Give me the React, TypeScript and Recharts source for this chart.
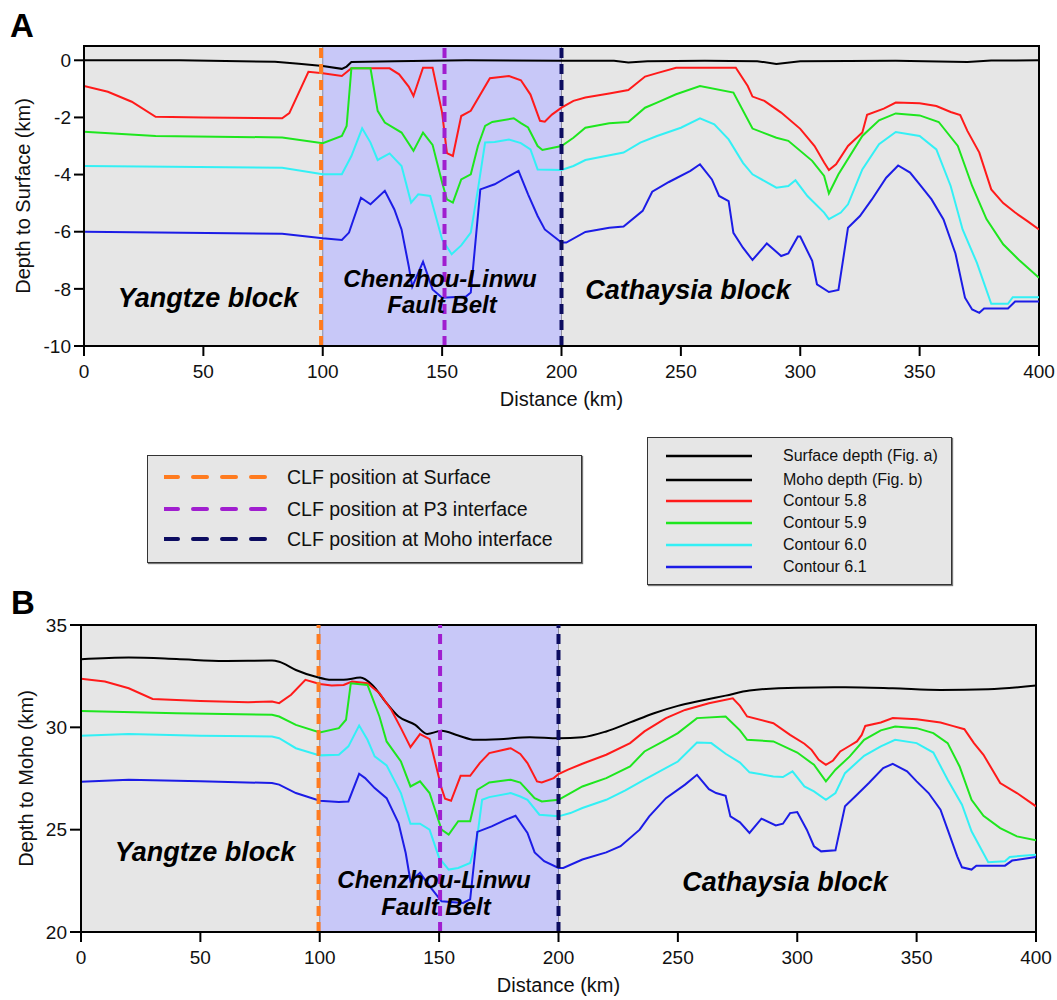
import React from 'react';
import { LineChart, Line, XAxis, YAxis, ReferenceArea, ReferenceLine } from 'recharts';

type Pt = [number, number];

const FONT = '"Liberation Sans", Arial, Helvetica, sans-serif';

const distanceTicks = [0, 50, 100, 150, 200, 250, 300, 350, 400];
const surfaceTicks = [0, -2, -4, -6, -8, -10];
const mohoTicks = [20, 25, 30, 35];

// CLF positions (km along profile)
const clfSurfaceA = 99.3;
const clfP3A = 151;
const clfMohoA = 200;
const clfSurfaceB = 99.5;
const clfP3B = 150.4;
const clfMohoB = 200;

// ---- Panel A: depth below surface (km) ----
const surfaceA: Pt[] = [
  [0, 0], [40, 0], [80, -0.05], [90, -0.12], [100, -0.2], [108, -0.3], [110, -0.22], [112, -0.06],
  [130, -0.03], [160, 0], [200, -0.02], [222, -0.02], [228, -0.08], [236, -0.03], [260, -0.02],
  [282, -0.03], [290, -0.13], [300, -0.03], [340, -0.02], [370, -0.06], [380, -0.01], [400, 0],
];
const c58A: Pt[] = [
  [0, -0.9], [10, -1.1], [20, -1.45], [30, -1.98], [50, -2.0], [83, -2.03], [86, -1.85], [94, -0.4],
  [100, -0.45], [108, -0.55], [112, -0.28], [128, -0.28], [132, -0.49], [136, -0.92], [138, -1.25],
  [142, -0.26], [146, -0.26], [150, -1.83], [152, -3.25], [154.5, -3.35], [158, -1.95], [162, -1.77],
  [170, -0.63], [178, -0.55], [183, -0.7], [187, -1.2], [191, -2.12], [193, -2.15], [196, -1.9],
  [200, -1.66], [205, -1.42], [210, -1.3], [220, -1.16], [228, -1.04], [235, -0.57], [240, -0.45],
  [248, -0.26], [273, -0.26], [278, -0.9], [280, -1.27], [285, -1.42], [292, -1.83], [300, -2.4],
  [306, -3.0], [310, -3.58], [312, -3.84], [315, -3.64], [320, -3.0], [326, -2.53], [328, -1.91],
  [335, -1.69], [340, -1.48], [350, -1.5], [357, -1.6], [363, -1.81], [367, -1.92], [370, -2.47],
  [375, -3.23], [380, -4.52], [385, -5.0], [390, -5.33], [395, -5.62], [400, -5.92],
];
const c59A: Pt[] = [
  [0, -2.5], [30, -2.65], [83, -2.7], [100, -2.9], [108, -2.65], [110, -2.3], [112, -0.28], [120, -0.28],
  [123, -1.77], [126, -2.18], [133, -2.53], [138, -3.17], [142, -2.53], [146, -2.96], [150, -4.28],
  [152, -4.87], [154.5, -4.98], [158, -4.17], [162, -3.99], [165, -3.0], [168, -2.3], [171, -2.16],
  [180, -2.03], [183, -2.2], [186, -2.35], [190, -3.0], [192, -3.14], [200, -3.0], [205, -2.71],
  [210, -2.36], [220, -2.2], [228, -2.16], [235, -1.66], [240, -1.48], [248, -1.19], [258, -0.9],
  [272, -1.13], [280, -2.39], [290, -2.71], [295, -2.82], [305, -3.52], [310, -4.05], [312, -4.66],
  [316, -3.99], [326, -2.65], [333, -2.1], [340, -1.86], [350, -1.93], [358, -2.16], [366, -3.0],
  [372, -4.4], [378, -5.56], [385, -6.44], [392, -7.02], [400, -7.61],
];
const c60A: Pt[] = [
  [0, -3.7], [83, -3.76], [100, -3.99], [108, -3.99], [112, -3.35], [116.5, -2.38], [120, -2.88],
  [123, -3.49], [128, -3.26], [133, -3.7], [137, -4.98], [140, -4.69], [145, -4.75], [150, -6.27],
  [154, -6.79], [158, -6.48], [162, -6.03], [165, -4.52], [168, -2.88], [172, -2.86], [178, -2.77],
  [183, -2.9], [187, -3.12], [190, -3.82], [200, -3.84], [205, -3.7], [210, -3.49], [226, -3.23],
  [233, -2.88], [240, -2.65], [250, -2.36], [258, -2.03], [264, -2.24], [270, -2.77], [276, -3.59],
  [280, -3.99], [290, -4.46], [295, -4.4], [298, -4.2], [303, -4.75], [310, -5.33], [312, -5.56],
  [317, -5.33], [320, -5.04], [326, -3.82], [333, -2.94], [340, -2.51], [350, -2.65], [357, -3.12],
  [363, -4.4], [368, -5.92], [374, -7.09], [380, -8.52], [387, -8.52], [389, -8.29], [400, -8.29],
];
const c61A: Pt[] = [
  [0, -6.0], [83, -6.07], [100, -6.23], [108, -6.29], [111, -6.03], [116, -4.81], [120, -5.04],
  [126, -4.57], [130, -5.22], [133, -5.92], [136, -7.2], [137.5, -7.92], [142, -7.05], [146, -8.02],
  [150, -8.31], [160, -8.27], [162, -8.13], [166, -4.52], [172, -4.34], [178, -4.05], [182, -3.87],
  [186, -4.69], [190, -5.45], [193, -5.92], [200, -6.38], [202, -6.38], [210, -6.01], [220, -5.86],
  [226, -5.82], [234, -5.27], [238, -4.6], [245, -4.26], [254, -3.87], [258, -3.64], [263, -4.17],
  [266, -4.75], [270, -4.93], [272, -6.04], [276, -6.56], [280, -6.99], [286, -6.41], [292, -6.85],
  [295, -6.76], [299, -6.17], [300, -6.17], [305, -7.02], [307, -7.84], [312, -8.11], [316, -8.04],
  [320, -5.86], [325, -5.45], [330, -4.87], [336, -4.11], [341, -3.68], [346, -3.93], [350, -4.34],
  [355, -4.87], [360, -5.57], [365, -6.76], [369, -8.31], [372, -8.72], [375, -8.84], [377, -8.69],
  [387, -8.69], [390, -8.44], [400, -8.44],
];

// ---- Panel B: depth to Moho (km) ----
const mohoB: Pt[] = [
  [0, 33.33], [20, 33.41], [40, 33.34], [60, 33.24], [80, 33.26], [83, 33.2], [90, 32.8], [98, 32.48],
  [105, 32.32], [110, 32.32], [117, 32.43], [122, 32.07], [128, 31.18], [133, 30.53], [140, 30.12],
  [145, 29.68], [151, 29.83], [158, 29.6], [165, 29.39], [175, 29.42], [188, 29.52], [200, 29.47],
  [210, 29.52], [220, 29.8], [230, 30.24], [240, 30.69], [250, 31.05], [260, 31.31], [270, 31.55],
  [280, 31.8], [300, 31.94], [320, 31.96], [340, 31.91], [360, 31.83], [380, 31.86], [400, 32.04],
];
const c58B: Pt[] = [
  [0, 32.37], [10, 32.24], [20, 31.91], [30, 31.39], [50, 31.29], [70, 31.23], [80, 31.26], [83, 31.18],
  [88, 31.59], [94, 32.32], [100, 32.12], [105, 32.04], [110, 32.07], [113.5, 32.24], [120, 32.15],
  [125, 31.67], [130, 30.85], [134, 29.96], [138, 29.03], [142, 29.67], [146, 29.42], [151, 27.03],
  [152.5, 26.51], [155, 26.41], [159, 27.63], [163, 27.63], [167, 28.25], [171, 28.74], [180, 28.98],
  [184, 28.7], [187, 28.25], [191, 27.36], [193, 27.31], [198, 27.52], [200, 27.72], [204, 27.93],
  [210, 28.22], [220, 28.66], [230, 29.23], [236, 29.8], [245, 30.45], [253, 30.85], [263, 31.18],
  [273, 31.42], [276, 31.05], [279, 30.53], [290, 30.2], [297, 29.63], [303, 29.2], [306, 28.9],
  [309, 28.41], [312, 28.17], [315, 28.38], [318, 28.82], [322, 29.1], [325, 29.31], [327, 29.63],
  [328.5, 30.07], [335, 30.24], [340, 30.45], [350, 30.4], [360, 30.24], [365, 30.07], [370, 29.91],
  [374, 29.23], [378, 28.66], [385, 27.28], [392, 26.79], [400, 26.14],
];
const c59B: Pt[] = [
  [0, 30.8], [40, 30.69], [80, 30.61], [83, 30.53], [90, 30.12], [100, 29.75], [108, 29.96], [111, 30.37],
  [113, 32.15], [120, 32.07], [125, 30.53], [128, 29.31], [134, 28.33], [138, 27.11], [142, 27.36],
  [146, 26.79], [150, 25.36], [151, 25.0], [154, 24.76], [158, 25.41], [163, 25.41], [166, 26.95],
  [171, 27.31], [180, 27.44], [184, 27.3], [190, 26.54], [193, 26.38], [200, 26.46], [205, 26.79],
  [210, 27.11], [220, 27.52], [230, 28.09], [236, 28.82], [245, 29.39], [250, 29.72], [258, 30.45],
  [270, 30.53], [276, 29.85], [279, 29.39], [290, 29.31], [300, 28.77], [307, 28.17], [312, 27.36],
  [316, 27.93], [322, 28.58], [328, 29.39], [335, 29.85], [341, 30.04], [350, 29.96], [357, 29.72],
  [363, 29.23], [368, 28.09], [373, 26.46], [378, 25.68], [385, 25.08], [392, 24.67], [400, 24.48],
];
const c60B: Pt[] = [
  [0, 29.59], [20, 29.68], [50, 29.59], [80, 29.55], [83, 29.47], [90, 28.98], [100, 28.63], [108, 28.66],
  [112, 29.07], [116.5, 30.09], [120, 29.39], [123, 28.58], [128, 28.14], [134, 26.79], [138, 25.29],
  [142, 25.29], [146, 25.0], [150, 23.62], [154, 23.05], [158, 23.13], [163, 23.37], [166, 24.67],
  [168, 26.46], [171, 26.59], [180, 26.79], [184, 26.62], [187, 26.46], [192, 25.73], [200, 25.65],
  [205, 25.81], [210, 26.06], [220, 26.46], [228, 26.92], [236, 27.44], [250, 28.33], [258, 29.26],
  [264, 29.23], [270, 28.71], [276, 28.28], [280, 27.8], [290, 27.6], [294, 27.57], [298, 27.85],
  [303, 27.11], [307, 26.87], [312, 26.46], [316, 26.79], [320, 27.76], [328, 28.61], [335, 29.07],
  [341, 29.39], [350, 29.23], [357, 28.77], [363, 27.44], [369, 26.22], [373, 24.92], [380, 23.41],
  [387, 23.46], [389, 23.67], [400, 23.78],
];
const c61B: Pt[] = [
  [0, 27.34], [20, 27.44], [50, 27.36], [80, 27.28], [83, 27.2], [90, 26.79], [100, 26.41], [108, 26.35],
  [112, 26.38], [116.5, 27.73], [119, 27.52], [123, 27.03], [128, 26.54], [133, 25.32], [136, 23.86],
  [138, 22.48], [142, 22.89], [146, 22.24], [151, 21.5], [160, 21.42], [163, 21.59], [166, 24.89],
  [172, 25.16], [178, 25.49], [182, 25.68], [187, 24.84], [190, 23.89], [194, 23.46], [200, 23.13],
  [202, 23.13], [210, 23.54], [220, 23.89], [226, 24.19], [234, 25.0], [238, 25.65], [245, 26.54],
  [253, 27.2], [258, 27.68], [263, 26.98], [266, 26.79], [270, 26.66], [272, 25.65], [276, 25.36],
  [280, 24.84], [285, 25.54], [291, 25.21], [294, 25.29], [297, 25.81], [300, 25.86], [304, 25.0],
  [307, 24.19], [310, 23.94], [316, 23.99], [320, 26.14], [325, 26.71], [330, 27.28], [336, 28.01],
  [340, 28.22], [346, 27.85], [350, 27.36], [355, 26.79], [360, 25.98], [363, 25.0], [367, 23.7],
  [369, 23.16], [373, 23.05], [375, 23.24], [387, 23.24], [390, 23.49], [400, 23.67],
];

const COLORS = {
  surface: '#000000',
  moho: '#000000',
  c58: '#ff1a1a',
  c59: '#1ee61e',
  c60: '#33f0f5',
  c61: '#1c1ce6',
  clfSurface: '#ff7b1f',
  clfP3: '#a01ecf',
  clfMoho: '#0c0c60',
};

const clfLegend = [
  { label: 'CLF position at Surface', color: COLORS.clfSurface },
  { label: 'CLF position at P3 interface', color: COLORS.clfP3 },
  { label: 'CLF position at Moho interface', color: COLORS.clfMoho },
];
const lineLegend = [
  { label: 'Surface depth (Fig. a)', color: COLORS.surface },
  { label: 'Moho depth (Fig. b)', color: COLORS.moho },
  { label: 'Contour 5.8', color: COLORS.c58 },
  { label: 'Contour 5.9', color: COLORS.c59 },
  { label: 'Contour 6.0', color: COLORS.c60 },
  { label: 'Contour 6.1', color: COLORS.c61 },
];

const toRows = (pts: Pt[]) => pts.map(([x, y]) => ({ x, y }));

interface Series {
  name: string;
  pts: Pt[];
  color: string;
  curve?: 'linear' | 'monotone';
}

interface PanelProps {
  series: Series[];
  yDomain: [number, number];
  yTicks: number[];
  yLabel: string;
  clf: [number, number, number];
  margin: { top: number; right: number; left: number; bottom: number };
  yAxisWidth: number;
  yTickSize: number;
  yLabelOffset: number;
}

const tickStyle = { fontSize: 19, fill: '#111', fontFamily: FONT };
const titleStyle = { fontSize: 20, fill: '#111', fontFamily: FONT, textAnchor: 'middle' as const };

function ProfilePanel({ series, yDomain, yTicks, yLabel, clf, margin, yAxisWidth, yTickSize, yLabelOffset }: PanelProps) {
  const [y0, y1] = yDomain;
  return (
    <LineChart width={1057} height={420} margin={margin}>
      <XAxis
        type="number"
        dataKey="x"
        domain={[0, 400]}
        ticks={distanceTicks}
        allowDataOverflow
        height={60}
        tickSize={10}
        tickMargin={9}
        tick={tickStyle}
        axisLine={{ stroke: '#000', strokeWidth: 2 }}
        tickLine={{ stroke: '#000', strokeWidth: 2 }}
        label={{ value: 'Distance (km)', position: 'insideBottom', offset: 0, style: titleStyle }}
      />
      <YAxis
        type="number"
        domain={yDomain}
        ticks={yTicks}
        allowDataOverflow
        width={yAxisWidth}
        tickSize={yTickSize}
        tickMargin={3}
        tick={tickStyle}
        axisLine={{ stroke: '#000', strokeWidth: 2 }}
        tickLine={{ stroke: '#000', strokeWidth: 2 }}
        label={{ value: yLabel, angle: -90, position: 'insideLeft', offset: yLabelOffset, style: titleStyle }}
      />
      <ReferenceArea x1={0} x2={400} y1={y0} y2={y1} fill="#e6e6e6" fillOpacity={1} stroke="none" />
      <ReferenceArea x1={100} x2={200} y1={y0} y2={y1} fill="#c8c8f8" fillOpacity={1} stroke="#8c8ca0" strokeWidth={1} />
      {series.map((s) => (
        <Line
          key={s.name}
          name={s.name}
          data={toRows(s.pts)}
          dataKey="y"
          type={s.curve ?? 'linear'}
          stroke={s.color}
          strokeWidth={2}
          dot={false}
          activeDot={false}
          isAnimationActive={false}
        />
      ))}
      <ReferenceLine x={clf[0]} stroke={COLORS.clfSurface} strokeWidth={4} strokeDasharray="10 6" />
      <ReferenceLine x={clf[1]} stroke={COLORS.clfP3} strokeWidth={4} strokeDasharray="10 6" />
      <ReferenceLine x={clf[2]} stroke={COLORS.clfMoho} strokeWidth={4} strokeDasharray="10 6" />
      <ReferenceArea x1={0} x2={400} y1={y0} y2={y1} fill="none" stroke="#000" strokeWidth={2} />
    </LineChart>
  );
}

const blockText: React.CSSProperties = {
  position: 'absolute',
  transform: 'translate(-50%, -50%)',
  fontFamily: FONT,
  fontWeight: 700,
  fontStyle: 'italic',
  lineHeight: 1,
  whiteSpace: 'nowrap',
  color: '#000',
};

function Annot({ x, y, size, children }: { x: number; y: number; size: number; children: React.ReactNode }) {
  return <div style={{ ...blockText, left: x, top: y, fontSize: size }}>{children}</div>;
}

function LegendBox({
  left, top, width, height, rows, rowTops, lineX, lineW, textX, fontSize, dashed,
}: {
  left: number; top: number; width: number; height: number;
  rows: { label: string; color: string }[]; rowTops: number[];
  lineX: number; lineW: number; textX: number; fontSize: number; dashed: boolean;
}) {
  return (
    <div
      style={{
        position: 'absolute', left, top, width, height, background: '#e6e6e6',
        border: '1px solid #333', boxShadow: '1px 1px 1px #777', fontFamily: FONT, color: '#111',
      }}
    >
      {rows.map((r, i) => (
        <div key={r.label} style={{ position: 'absolute', left: 0, top: rowTops[i] - 12, height: 24, width: '100%' }}>
          <svg style={{ position: 'absolute', left: lineX, top: 0 }} width={lineW} height={24}>
            <line
              x1={0} y1={12} x2={lineW} y2={12} stroke={r.color}
              strokeWidth={dashed ? 4 : 2.5}
              strokeDasharray={dashed ? '14 15' : undefined}
              strokeLinecap={dashed ? 'round' : 'butt'}
            />
          </svg>
          <div style={{ position: 'absolute', left: textX, top: 0, height: 24, lineHeight: '24px', fontSize, whiteSpace: 'nowrap' }}>
            {r.label}
          </div>
        </div>
      ))}
    </div>
  );
}

export default function App() {
  const seriesA: Series[] = [
    { name: 'Surface depth', pts: surfaceA, color: COLORS.surface },
    { name: 'Contour 5.8', pts: c58A, color: COLORS.c58 },
    { name: 'Contour 5.9', pts: c59A, color: COLORS.c59 },
    { name: 'Contour 6.0', pts: c60A, color: COLORS.c60 },
    { name: 'Contour 6.1', pts: c61A, color: COLORS.c61 },
  ];
  const seriesB: Series[] = [
    { name: 'Moho depth', pts: mohoB, color: COLORS.moho, curve: 'monotone' },
    { name: 'Contour 5.8', pts: c58B, color: COLORS.c58 },
    { name: 'Contour 5.9', pts: c59B, color: COLORS.c59 },
    { name: 'Contour 6.0', pts: c60B, color: COLORS.c60 },
    { name: 'Contour 6.1', pts: c61B, color: COLORS.c61 },
  ];

  return (
    <div style={{ position: 'absolute', left: 0, top: 0, width: 1057, height: 1000, background: '#fff', fontFamily: FONT }}>
      <div style={{ position: 'absolute', left: 0, top: 0 }}>
        <ProfilePanel
          series={seriesA}
          yDomain={[-10, 0.5]}
          yTicks={surfaceTicks}
          yLabel="Depth to Surface (km)"
          clf={[clfSurfaceA, clfP3A, clfMohoA]}
          margin={{ top: 46, right: 18, left: 0, bottom: 14 }}
          yAxisWidth={84}
          yTickSize={10}
          yLabelOffset={23}
        />
      </div>
      <div style={{ position: 'absolute', left: 0, top: 580 }}>
        <ProfilePanel
          series={seriesB}
          yDomain={[20, 35]}
          yTicks={mohoTicks}
          yLabel="Depth to Moho (km)"
          clf={[clfSurfaceB, clfP3B, clfMohoB]}
          margin={{ top: 45, right: 21, left: 0, bottom: 8 }}
          yAxisWidth={81}
          yTickSize={11}
          yLabelOffset={26}
        />
      </div>

      <div style={{ position: 'absolute', left: 10, top: 9, fontFamily: FONT, fontWeight: 700, fontSize: 33, lineHeight: 1 }}>A</div>
      <div style={{ position: 'absolute', left: 11, top: 586, fontFamily: FONT, fontWeight: 700, fontSize: 33, lineHeight: 1 }}>B</div>

      <Annot x={208} y={298} size={27}>Yangtze block</Annot>
      <Annot x={440} y={279} size={24}>Chenzhou-Linwu</Annot>
      <Annot x={442} y={305} size={24}>Fault Belt</Annot>
      <Annot x={688} y={290} size={27}>Cathaysia block</Annot>

      <Annot x={205} y={852} size={27}>Yangtze block</Annot>
      <Annot x={434} y={880} size={24}>Chenzhou-Linwu</Annot>
      <Annot x={436} y={907} size={24}>Fault Belt</Annot>
      <Annot x={785} y={882} size={27}>Cathaysia block</Annot>

      <LegendBox
        left={147} top={455} width={433} height={106}
        rows={clfLegend} rowTops={[21, 53, 83]}
        lineX={16} lineW={104} textX={139} fontSize={19.5} dashed
      />
      <LegendBox
        left={647} top={437} width={303} height={146}
        rows={lineLegend} rowTops={[18, 42, 63, 85, 107, 129]}
        lineX={18} lineW={86} textX={135} fontSize={16} dashed={false}
      />
    </div>
  );
}
